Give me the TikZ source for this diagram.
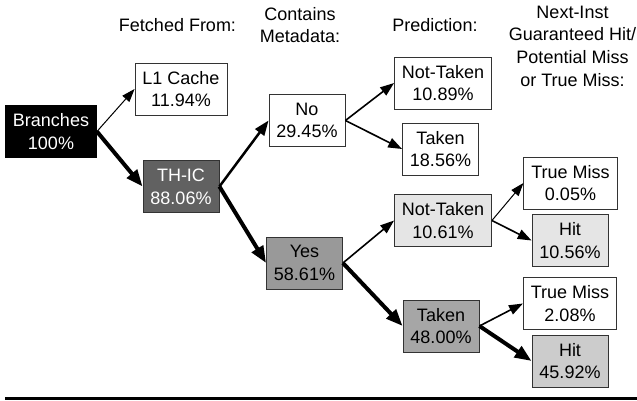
\documentclass[tikz,border=0pt]{standalone}
\usepackage{fontspec}
\setmainfont{Liberation Sans}
\usetikzlibrary{arrows.meta}
\definecolor{fillA}{gray}{0.38}
\definecolor{fillB}{gray}{0.60}
\definecolor{fillC}{gray}{0.65}
\definecolor{fillD}{gray}{0.80}
\definecolor{fillE}{gray}{0.90}
\definecolor{boxline}{gray}{0.2}
\tikzset{
  every node/.style={font=\fontsize{18}{22.7}\selectfont},
  box/.style={draw=boxline, line width=0.8pt, fill=white, align=center,
    minimum width=76pt, minimum height=52pt, inner xsep=7.5pt, inner ysep=2pt},
  hdr/.style={align=center},
  conn/.style={-{Triangle[length=12pt 1.2, width=8pt 1.2]}, line cap=butt},
  w1/.style={conn, line width=1pt},
  w2/.style={conn, line width=1.6pt},
  w3/.style={conn, line width=2.5pt},
  w4/.style={conn, line width=4pt},
}
\begin{document}
\begin{tikzpicture}[x=1pt, y=-1pt]
\useasboundingbox (0,0) rectangle (637,400);
% headers
\node[hdr] (h1) at (177.5,25) {Fetched From:};
\node[hdr] (h2) at (300,25) {Contains\\Metadata:};
\node[hdr] (h3) at (435,25) {Prediction:};
\node[hdr] (h4) at (572.5,46) {Next-Inst\\Guaranteed Hit/\\Potential Miss\\or True Miss:};
% boxes
\node[box, fill=black, text=white, draw=black] (br) at (51,131.5) {Branches\\100\%};
\node[box] (l1) at (181,89) {L1 Cache\\11.94\%};
\node[box, fill=fillA, text=white] (th) at (181,186.5) {TH-IC\\88.06\%};
\node[box] (no) at (307,120.5) {No\\29.45\%};
\node[box, fill=fillB] (yes) at (304.5,263) {Yes\\58.61\%};
\node[box] (nt1) at (443,83) {Not-Taken\\10.89\%};
\node[box] (t1) at (440.5,149) {Taken\\18.56\%};
\node[box, fill=fillE] (nt2) at (443,220.5) {Not-Taken\\10.61\%};
\node[box, fill=fillC] (t2) at (441,326) {Taken\\48.00\%};
\node[box] (tm1) at (570.5,183) {True Miss\\0.05\%};
\node[box, fill=fillE] (hit2) at (570,240.5) {Hit\\10.56\%};
\node[box] (tm2) at (570,303.5) {True Miss\\2.08\%};
\node[box, fill=fillD] (hit3) at (570,361) {Hit\\45.92\%};
% connectors
\draw[w1] (br.east) -- (l1.west);
\draw[w4] (br.east) -- (th.west);
\draw[w3] (th.east) -- (no.west);
\draw[w4] (th.east) -- (yes.west);
\draw[w2] (no.east) -- (nt1.west);
\draw[w2] (no.east) -- (t1.west);
\draw[w2] (yes.east) -- (nt2.west);
\draw[w4] (yes.east) -- (t2.west);
\draw[w1] (nt2.east) -- (tm1.west);
\draw[w2] (nt2.east) -- (hit2.west);
\draw[w2] (t2.east) -- (tm2.west);
\draw[w4] (t2.east) -- (hit3.west);
% bottom rule
\draw[line width=3pt] (5,398.5) -- (637,398.5);
\end{tikzpicture}
\end{document}
